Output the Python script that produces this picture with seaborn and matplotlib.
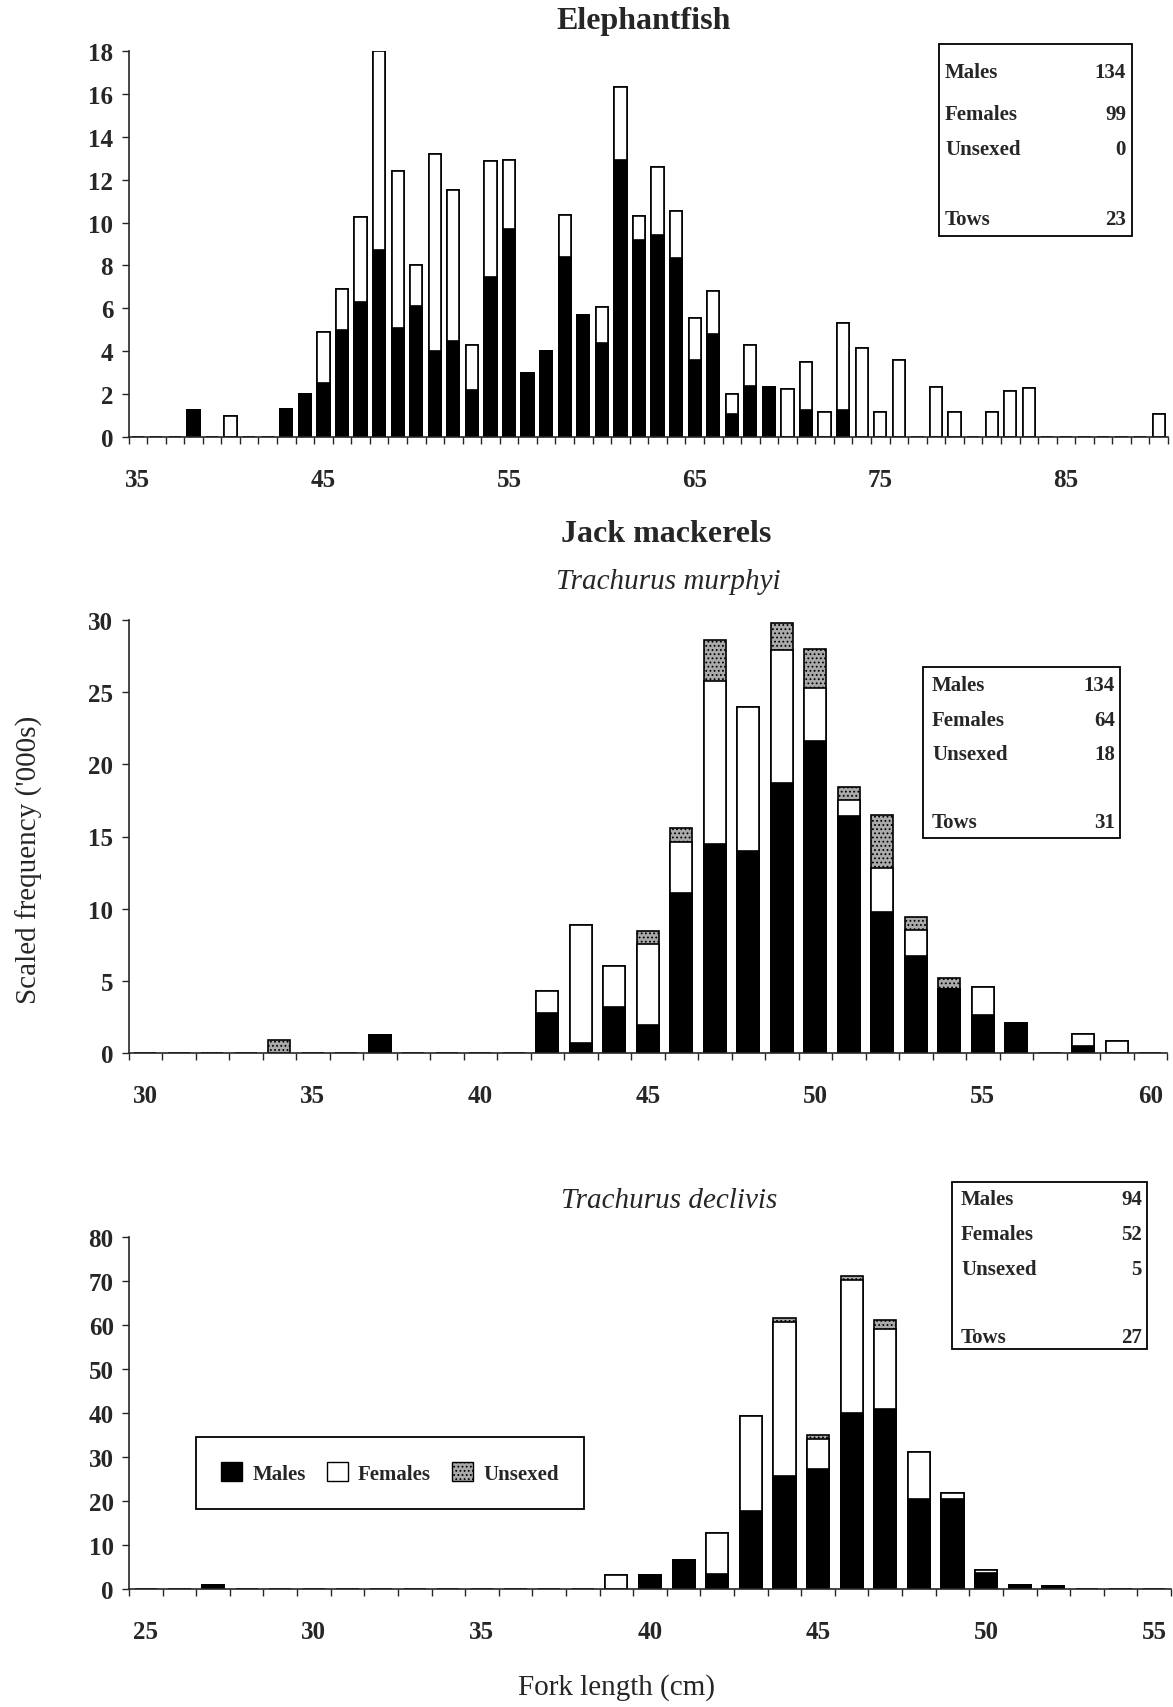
import numpy as np
import pandas as pd
import matplotlib
matplotlib.use("Agg")
import matplotlib.pyplot as plt
import seaborn as sns
from matplotlib.patches import Patch, Rectangle

# ---------------- data ----------------
# Elephantfish (fork length categories 35..90)
ele_range = (35, 90)
ele_len = [38, 40, 43, 44, 45, 46, 47, 48, 49, 50, 51, 52, 53, 54, 55, 56, 57, 58, 59, 60,
           61, 62, 63, 64, 65, 66, 67, 68, 69, 70, 71, 72, 73, 74, 75, 76, 78, 79, 81, 82, 83, 90]
ele_males = [1.25, 0, 1.3, 2.0, 2.5, 5.0, 6.3, 8.7, 5.1, 6.1, 4.0, 4.5, 2.2, 7.45, 9.7, 3.0, 4.0, 8.4, 5.7, 4.4,
             12.9, 9.2, 9.4, 8.35, 3.6, 4.8, 1.05, 2.4, 2.35, 0, 1.25, 0, 1.25, 0, 0, 0, 0, 0, 0, 0, 0, 0]
ele_females = [0, 1.0, 0, 0, 2.4, 1.9, 3.95, 9.3, 7.3, 1.9, 9.2, 7.0, 2.1, 5.4, 3.2, 0, 0, 1.96, 0, 1.64,
               3.4, 1.1, 3.2, 2.2, 1.94, 2.0, 0.95, 1.87, 0, 2.25, 2.27, 1.16, 4.05, 4.16, 1.16, 3.6, 2.33, 1.16, 1.16, 2.14, 2.3, 1.09]
ele_unsexed = [0] * len(ele_len)
ele_stats = [("Males", "134"), ("Females", "99"), ("Unsexed", "0"), ("Tows", "23")]

# Trachurus murphyi (30..60)
mur_range = (30, 60)
mur_len = [34, 37, 42, 43, 44, 45, 46, 47, 48, 49, 50, 51, 52, 53, 54, 55, 56, 58, 59]
mur_males = [0, 1.22, 2.76, 0.69, 3.22, 1.96, 11.1, 14.5, 14.0, 18.7, 21.6, 16.4, 9.8, 6.7, 4.4, 2.65, 2.1, 0.46, 0]
mur_females = [0, 0, 1.57, 8.17, 2.81, 5.57, 3.5, 11.3, 10.0, 9.2, 3.7, 1.1, 3.0, 1.8, 0, 1.89, 0, 0.88, 0.85]
mur_unsexed = [0.92, 0, 0, 0, 0, 0.94, 1.0, 2.8, 0, 1.9, 2.7, 0.9, 3.7, 0.9, 0.8, 0, 0, 0, 0]
mur_stats = [("Males", "134"), ("Females", "64"), ("Unsexed", "18"), ("Tows", "31")]

# Trachurus declivis (25..55)
dec_range = (25, 55)
dec_len = [27, 39, 40, 41, 42, 43, 44, 45, 46, 47, 48, 49, 50, 51, 52]
dec_males = [0.9, 0, 3.25, 6.5, 3.5, 17.8, 25.7, 27.3, 39.9, 40.8, 20.4, 20.4, 3.6, 1.0, 0.75]
dec_females = [0, 3.25, 0, 0, 9.2, 21.6, 34.9, 6.7, 30.3, 18.4, 10.8, 1.5, 0.8, 0, 0]
dec_unsexed = [0, 0, 0, 0, 0, 0, 1.0, 1.0, 1.0, 1.9, 0, 0, 0, 0, 0]
dec_stats = [("Males", "94"), ("Females", "52"), ("Unsexed", "5"), ("Tows", "27")]

# ---------------- style ----------------
sns.set_style("ticks")
plt.rcParams["font.family"] = ["Liberation Serif", "DejaVu Serif"]
plt.rcParams["hatch.linewidth"] = 0.8
plt.rcParams["axes.linewidth"] = 1.2

W, H = 1173, 1708
fig = plt.figure(figsize=(W / 100, H / 100), dpi=100)

def fx(x):
    return x / W

def fy(y):
    return 1 - y / H

UNS_COLOR = "#aaaaaa"
UNS_HATCH = "...."


def panel(rect_px, rng, lens, males, females, unsexed, yticks, label_step):
    x0, y0, x1, y1 = rect_px
    ax = fig.add_axes([fx(x0), fy(y1), fx(x1 - x0), (y1 - y0) / H])
    cats = list(range(rng[0], rng[1] + 1))
    df = pd.DataFrame({"length": lens, "m": males, "f": females, "u": unsexed})
    df = df.set_index("length").reindex(cats, fill_value=0).reset_index()
    df["mf"] = df["m"] + df["f"]
    df["tot"] = df["mf"] + df["u"]
    common = dict(data=df, x="length", order=cats, width=0.66, saturation=1,
                  edgecolor="black", linewidth=1.2, ax=ax, errorbar=None)
    sns.barplot(y="tot", color=UNS_COLOR, hatch=UNS_HATCH, **common)
    sns.barplot(y="mf", color="white", **common)
    sns.barplot(y="m", color="black", **common)
    n = len(cats)
    ax.set_xlim(-0.5, n - 0.5)
    ax.set_ylim(0, yticks[-1])
    ax.set_yticks(yticks)
    ax.set_yticklabels([str(v) for v in yticks])
    lab_idx = [i for i, c in enumerate(cats) if (c - rng[0]) % label_step == 0]
    ax.set_xticks(lab_idx)
    ax.set_xticklabels([str(cats[i]) for i in lab_idx])
    ax.set_xticks(np.arange(-0.5, n, 1.0), minor=True)
    ax.tick_params(axis="x", which="major", length=0, pad=22, labelsize=18)
    ax.tick_params(axis="x", which="minor", length=5, width=1.0, direction="out")
    ax.tick_params(axis="y", which="major", length=5, width=1.0, direction="out", pad=6, labelsize=18)
    for lbl in ax.get_xticklabels() + ax.get_yticklabels():
        lbl.set_fontweight("bold")
    ax.set_xlabel("")
    ax.set_ylabel("")
    sns.despine(ax=ax)
    return ax


def stat_box(box_px, rows_y, text_x, num_x, stats):
    bx0, by0, bx1, by1 = box_px
    fig.add_artist(Rectangle((fx(bx0), fy(by1)), fx(bx1 - bx0), (by1 - by0) / H,
                             transform=fig.transFigure, fill=False, lw=1.3, ec="black"))
    for (name, val), ry in zip(stats, rows_y):
        fig.text(fx(text_x), fy(ry), name, ha="left", va="center", fontsize=15, fontweight="bold")
        fig.text(fx(num_x), fy(ry), val, ha="right", va="center", fontsize=15, fontweight="bold")


ax1 = panel((128.5, 52, 1168, 438), ele_range, ele_len, ele_males, ele_females, ele_unsexed,
            list(range(0, 19, 2)), 10)
ax2 = panel((128.5, 621, 1167, 1054), mur_range, mur_len, mur_males, mur_females, mur_unsexed,
            list(range(0, 31, 5)), 5)
ax3 = panel((129, 1238, 1171, 1590), dec_range, dec_len, dec_males, dec_females, dec_unsexed,
            list(range(0, 81, 10)), 5)

stat_box((939, 45, 1132, 237), [73, 115, 150, 220], 945, 1126, ele_stats)
stat_box((923, 668, 1120, 839), [686, 721, 755, 823], 932, 1115, mur_stats)
stat_box((952, 1183, 1147, 1350), [1200, 1235, 1270, 1338], 961, 1142, dec_stats)

# titles
fig.text(fx(644), fy(22), "Elephantfish", ha="center", va="center", fontsize=23, fontweight="bold")
fig.text(fx(666), fy(534), "Jack mackerels", ha="center", va="center", fontsize=23, fontweight="bold")
fig.text(fx(668), fy(582), "Trachurus murphyi", ha="center", va="center", fontsize=21, style="italic")
fig.text(fx(669), fy(1201), "Trachurus declivis", ha="center", va="center", fontsize=21, style="italic")
fig.text(fx(617), fy(1688), "Fork length (cm)", ha="center", va="center", fontsize=21)
fig.text(fx(29), fy(860), "Scaled frequency ('000s)", ha="center", va="center", fontsize=21, rotation=90)

# legend
handles = [Patch(facecolor="black", edgecolor="black", label="Males"),
           Patch(facecolor="white", edgecolor="black", label="Females"),
           Patch(facecolor=UNS_COLOR, edgecolor="black", hatch=UNS_HATCH, label="Unsexed")]
leg = ax3.legend(handles=handles, ncol=3, loc="center",
                 bbox_to_anchor=(fx(390), fy(1474)), bbox_transform=fig.transFigure,
                 frameon=True, fancybox=False, edgecolor="black", framealpha=1,
                 prop={"size": 15, "weight": "bold"}, handlelength=1.0, handleheight=1.0,
                 handletextpad=0.5, columnspacing=1.0, borderpad=1.2)
leg.get_frame().set_linewidth(1.3)

fig.savefig("out.png", dpi=100)
